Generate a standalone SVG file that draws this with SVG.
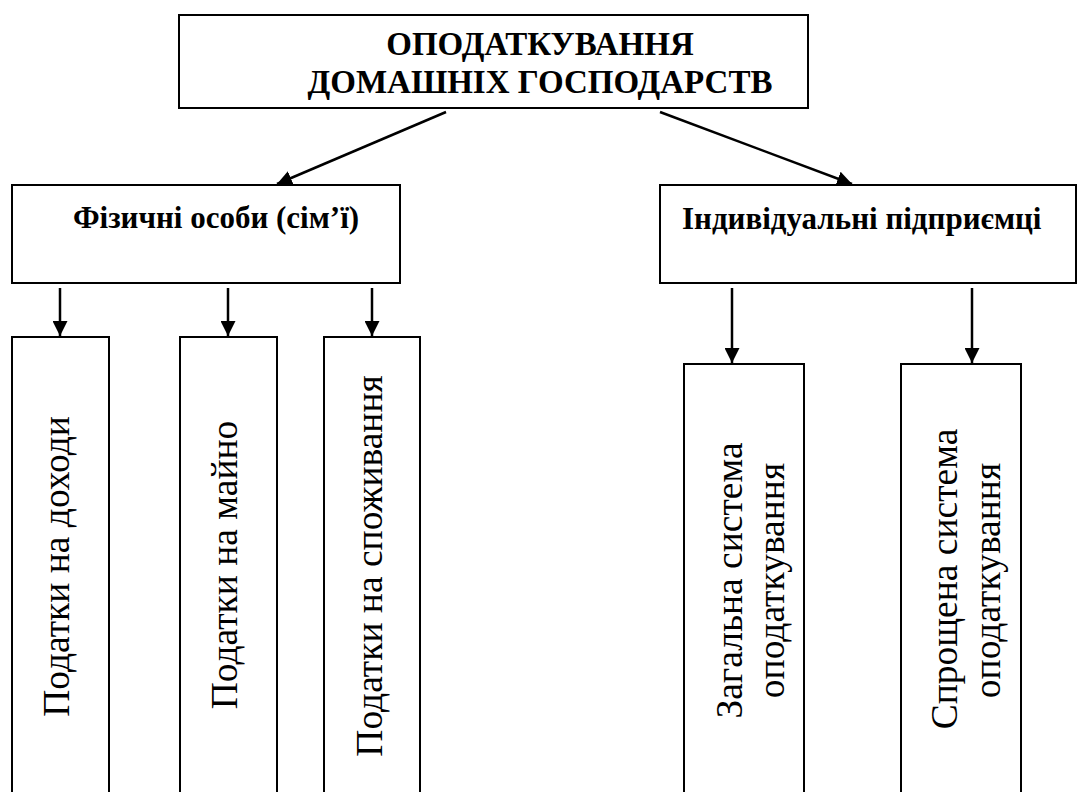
<svg xmlns="http://www.w3.org/2000/svg" width="1088" height="792" viewBox="0 0 1088 792">
<style>
.box{fill:#fff;stroke:#000;stroke-width:2}
.t{font-family:"Liberation Serif","Times New Roman",serif;fill:#000}
.b{font-weight:bold}
.v{font-size:37.5px;text-anchor:middle}
.c{stroke:#000;stroke-width:2.5;fill:none}
</style>
<defs>
<marker id="ah" viewBox="0 0 10 10" refX="10" refY="5" markerWidth="15" markerHeight="15" markerUnits="userSpaceOnUse" orient="auto">
<path d="M0,0 L10,5 L0,10 z" fill="#000"/>
</marker>
</defs>
<rect width="1088" height="792" fill="#fff"/>
<g id="top">
<rect class="box" x="179" y="15" width="629" height="93"/>
<text class="t b" x="540" y="55" font-size="33" text-anchor="middle">ОПОДАТКУВАННЯ</text>
<text class="t b" x="540" y="93" font-size="33" text-anchor="middle">ДОМАШНІХ ГОСПОДАРСТВ</text>
</g>
<g id="fiz">
<rect class="box" x="12" y="185" width="388" height="98"/>
<text class="t b" x="216" y="228" font-size="31" text-anchor="middle">Фізичні особи (сім’ї)</text>
</g>
<g id="ind">
<rect class="box" x="660" y="185" width="416" height="98"/>
<text class="t b" x="682" y="229" font-size="31">Індивідуальні підприємці</text>
</g>
<g id="dohody">
<rect class="box" x="12" y="337" width="97" height="480"/>
<text class="t v" transform="translate(69,566.5) rotate(-90)">Податки на доходи</text>
</g>
<g id="maino">
<rect class="box" x="180" y="337" width="97" height="480"/>
<text class="t v" transform="translate(237,565) rotate(-90)">Податки на майно</text>
</g>
<g id="spozh">
<rect class="box" x="324" y="337" width="96" height="480"/>
<text class="t v" transform="translate(382,566) rotate(-90)">Податки на споживання</text>
</g>
<g id="zag">
<rect class="box" x="684" y="364" width="120" height="460"/>
<text class="t v" transform="translate(742,580.5) rotate(-90)">Загальна система</text>
<text class="t v" transform="translate(784,580.5) rotate(-90)">оподаткування</text>
</g>
<g id="spr">
<rect class="box" x="901" y="364" width="120" height="460"/>
<text class="t v" transform="translate(957,579) rotate(-90)">Спрощена система</text>
<text class="t v" transform="translate(1000,580.5) rotate(-90)">оподаткування</text>
</g>
<g id="connectors">
<line class="c" x1="446" y1="112" x2="277" y2="184" marker-end="url(#ah)"/>
<line class="c" x1="660" y1="112" x2="852" y2="184" marker-end="url(#ah)"/>
<line class="c" x1="60" y1="288" x2="60" y2="336" marker-end="url(#ah)"/>
<line class="c" x1="228" y1="288" x2="228" y2="336" marker-end="url(#ah)"/>
<line class="c" x1="372" y1="288" x2="372" y2="336" marker-end="url(#ah)"/>
<line class="c" x1="732" y1="288" x2="732" y2="363" marker-end="url(#ah)"/>
<line class="c" x1="972" y1="288" x2="972" y2="363" marker-end="url(#ah)"/>
</g>
</svg>
